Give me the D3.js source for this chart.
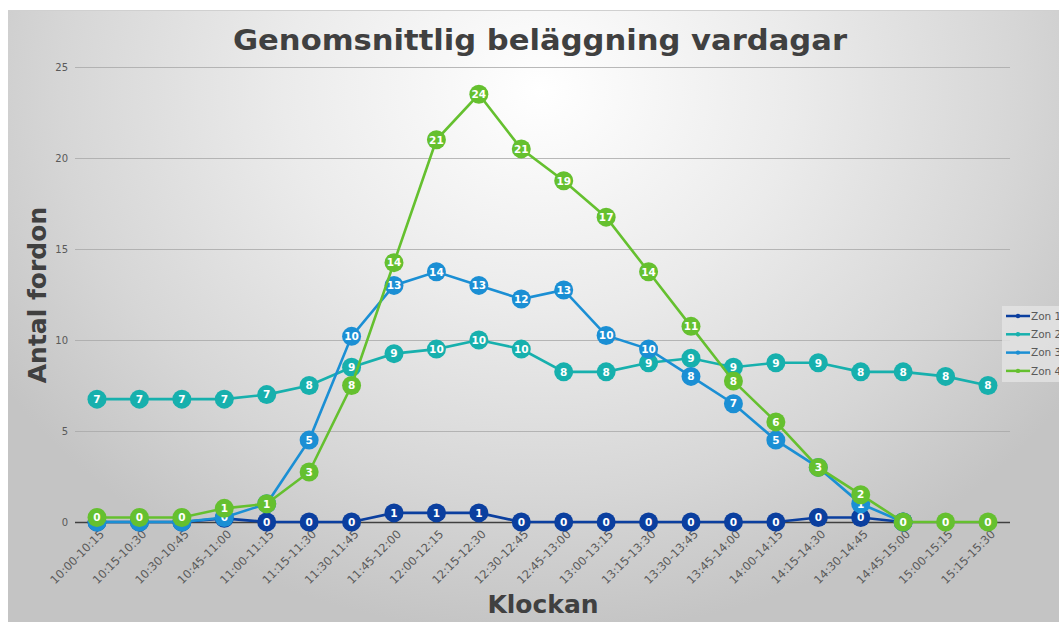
<!DOCTYPE html>
<html><head><meta charset="utf-8">
<script src="https://cdn.jsdelivr.net/npm/d3@7"></script>
<style>body{margin:0;background:#fff;}svg{display:block;}</style>
</head><body>
<svg id="c" width="1059" height="622"></svg>
<script>
const categories = ["10:00-10:15","10:15-10:30","10:30-10:45","10:45-11:00","11:00-11:15","11:15-11:30","11:30-11:45","11:45-12:00","12:00-12:15","12:15-12:30","12:30-12:45","12:45-13:00","13:00-13:15","13:15-13:30","13:30-13:45","13:45-14:00","14:00-14:15","14:15-14:30","14:30-14:45","14:45-15:00","15:00-15:15","15:15-15:30"];
const zon1 = [0,0,0,0.2,0,0,0,0.5,0.5,0.5,0,0,0,0,0,0,0,0.25,0.25,0,null,null];
const zon2 = [6.75,6.75,6.75,6.75,7,7.5,8.5,9.25,9.5,10,9.5,8.25,8.25,8.75,9,8.5,8.75,8.75,8.25,8.25,8,7.5];
const zon3 = [0,0,0,0.25,1,4.5,10.2,13,13.75,13,12.25,12.75,10.25,9.5,8,6.5,4.5,3,1,0,null,null];
const zon4 = [0.25,0.25,0.25,0.75,1,2.75,7.5,14.25,21,23.5,20.5,18.75,16.75,13.75,10.75,7.75,5.5,3,1.5,0,0,0];
const seriesNames = ["Zon 1","Zon 2","Zon 3","Zon 4"];
const seriesColors = ["#0b3f9f","#17b0ad","#1b8fd4","#65c02f"];
const yTicks = [0,5,10,15,20,25];
const title = "Genomsnittlig beläggning vardagar";
const xTitle = "Klockan";
const yTitle = "Antal fordon";

const series = [zon1, zon2, zon3, zon4];
const svg = d3.select("#c");
const defs = svg.append("defs");
const rg = defs.append("radialGradient").attr("id","bg")
  .attr("gradientUnits","userSpaceOnUse")
  .attr("cx",540).attr("cy",90).attr("r",640)
  .attr("gradientTransform","translate(540,90) scale(1,0.85) translate(-540,-90)");
rg.append("stop").attr("offset","0%").attr("stop-color","#ffffff");
rg.append("stop").attr("offset","40%").attr("stop-color","#ebebeb");
rg.append("stop").attr("offset","75%").attr("stop-color","#d6d6d6");
rg.append("stop").attr("offset","100%").attr("stop-color","#c4c4c4");

svg.append("rect").attr("x",8).attr("y",10).attr("width",1051).attr("height",612).attr("fill","url(#bg)");
svg.append("line").attr("x1",8).attr("x2",1059).attr("y1",10.5).attr("y2",10.5).attr("stroke","#d0d0d0");

const x = d3.scalePoint().domain(categories).range([97, 988]);
const y = d3.scaleLinear().domain([0,25]).range([522, 67]);

// gridlines
const grid = svg.append("g");
grid.selectAll("line").data(yTicks.filter(d=>d>0)).join("line")
  .attr("x1",75).attr("x2",1010)
  .attr("y1",d=>Math.round(y(d))+0.5).attr("y2",d=>Math.round(y(d))+0.5)
  .attr("stroke","#a9a9a9").attr("stroke-width",1).attr("opacity",0.8);

// y axis labels
const yAxis = d3.axisLeft(y).tickValues(yTicks).tickSize(0).tickPadding(0);
const ya = svg.append("g").attr("transform","translate(68,0)").call(yAxis);
ya.select(".domain").remove();
ya.selectAll("text").attr("font-family","DejaVu Sans, Verdana, sans-serif").attr("font-size",10).attr("fill","#595959").attr("dy","0.32em");

// zero line
svg.append("line").attr("x1",75).attr("x2",1010).attr("y1",y(0)+0.5).attr("y2",y(0)+0.5).attr("stroke","#404040").attr("stroke-width",1.3);

// x axis labels
const xAxis = d3.axisBottom(x).tickSize(0).tickPadding(0);
const xa = svg.append("g").call(xAxis);
xa.select(".domain").remove();
xa.selectAll(".tick").attr("transform", d => `translate(${x(d)+5},532)`);
xa.selectAll("text").attr("font-family","DejaVu Sans, Verdana, sans-serif").attr("font-size",11.5)
  .attr("fill","#595959").attr("text-anchor","end").attr("dy","0.35em").attr("y",0)
  .attr("transform","rotate(-45)");

// series
const line = d3.line().defined(d=>d!=null).x((d,i)=>x(categories[i])).y(d=>y(d));
series.forEach((vals, si) => {
  const g = svg.append("g");
  const col = seriesColors[si];
  g.append("path").datum(vals).attr("d", line).attr("fill","none").attr("stroke",col).attr("stroke-width",2.6);
  const pts = vals.map((v,i)=>({v,i})).filter(d=>d.v!=null);
  g.selectAll("circle").data(pts).join("circle")
    .attr("cx",d=>x(categories[d.i])).attr("cy",d=>y(d.v)).attr("r",9.5).attr("fill",col);
  g.selectAll("text").data(pts).join("text")
    .attr("x",d=>x(categories[d.i])).attr("y",d=>y(d.v)).attr("dy","0.36em")
    .attr("text-anchor","middle").attr("font-family","DejaVu Sans, Verdana, sans-serif")
    .attr("font-weight","bold").attr("font-size",10.5).attr("fill","#ffffff")
    .text(d=>d3.format(".0f")(Math.round(d.v)));
});

// legend
const lg = svg.append("g");
lg.append("rect").attr("x",1002).attr("y",306).attr("width",60).attr("height",76).attr("fill","#e4e4e4").attr("opacity",0.8);
seriesNames.forEach((n,i)=>{
  const yy = 316 + i*18.3;
  lg.append("line").attr("x1",1006).attr("x2",1030).attr("y1",yy).attr("y2",yy).attr("stroke",seriesColors[i]).attr("stroke-width",2.5);
  lg.append("circle").attr("cx",1018).attr("cy",yy).attr("r",2.2).attr("fill",seriesColors[i]);
  lg.append("text").attr("x",1031).attr("y",yy).attr("dy","0.35em").attr("font-family","DejaVu Sans, Verdana, sans-serif")
    .attr("font-size",10.5).attr("fill","#595959").text(n);
});

// titles
svg.append("text").attr("x",540).attr("y",50).attr("text-anchor","middle")
  .attr("font-family","DejaVu Sans, Verdana, sans-serif").attr("font-weight","bold").attr("font-size",28)
  .attr("fill","#404040").attr("textLength",614).attr("lengthAdjust","spacingAndGlyphs").text(title);
svg.append("text").attr("x",543).attr("y",613).attr("text-anchor","middle")
  .attr("font-family","DejaVu Sans, Verdana, sans-serif").attr("font-weight","bold").attr("font-size",25)
  .attr("fill","#404040").text(xTitle);
svg.append("text").attr("transform","translate(46,295) rotate(-90)").attr("text-anchor","middle")
  .attr("font-family","DejaVu Sans, Verdana, sans-serif").attr("font-weight","bold").attr("font-size",25)
  .attr("fill","#404040").text(yTitle);
</script>
</body></html>
